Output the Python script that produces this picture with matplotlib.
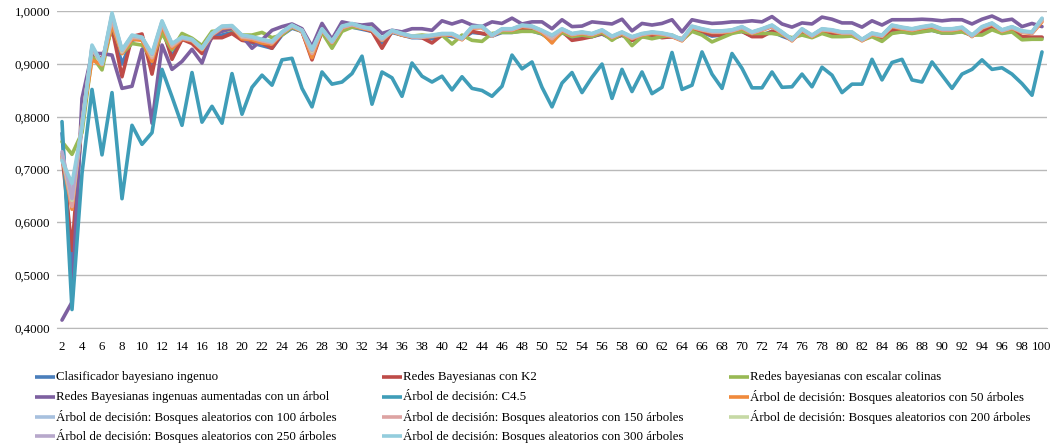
import matplotlib.pyplot as plt
from matplotlib.lines import Line2D
from matplotlib.ticker import FuncFormatter, MultipleLocator
import numpy as np

plt.rcParams['font.family'] = ['Liberation Serif', 'DejaVu Serif']

x = np.arange(2, 101)

nb = [0.769, 0.500, 0.805, 0.925, 0.905, 0.970, 0.900, 0.945, 0.950, 0.895,
      0.968, 0.915, 0.948, 0.942, 0.925, 0.952, 0.955, 0.960, 0.948, 0.940,
      0.935, 0.930, 0.955, 0.968, 0.962, 0.915, 0.962, 0.940, 0.968, 0.970,
      0.966, 0.962, 0.940, 0.960, 0.955, 0.950, 0.950, 0.948, 0.955, 0.952,
      0.948, 0.960, 0.958, 0.953, 0.960, 0.960, 0.963, 0.963, 0.957, 0.945,
      0.960, 0.950, 0.952, 0.952, 0.957, 0.948, 0.955, 0.945, 0.952, 0.953,
      0.951, 0.952, 0.946, 0.963, 0.960, 0.953, 0.955, 0.960, 0.962, 0.953,
      0.955, 0.962, 0.953, 0.946, 0.960, 0.952, 0.961, 0.957, 0.954, 0.955,
      0.946, 0.954, 0.949, 0.963, 0.961, 0.959, 0.962, 0.964, 0.959, 0.959,
      0.962, 0.954, 0.960, 0.968, 0.959, 0.962, 0.950, 0.950, 0.950]

k2 = [0.730, 0.547, 0.800, 0.920, 0.910, 0.968, 0.876, 0.952, 0.957, 0.881,
      0.971, 0.909, 0.947, 0.939, 0.920, 0.950, 0.950, 0.958, 0.945, 0.942,
      0.940, 0.930, 0.958, 0.970, 0.962, 0.908, 0.962, 0.940, 0.968, 0.972,
      0.968, 0.962, 0.930, 0.962, 0.955, 0.952, 0.950, 0.940, 0.955, 0.955,
      0.948, 0.962, 0.958, 0.955, 0.962, 0.962, 0.965, 0.965, 0.958, 0.945,
      0.962, 0.945, 0.948, 0.952, 0.958, 0.948, 0.955, 0.945, 0.952, 0.955,
      0.950, 0.952, 0.948, 0.965, 0.962, 0.955, 0.955, 0.962, 0.962, 0.952,
      0.952, 0.962, 0.955, 0.947, 0.962, 0.952, 0.962, 0.958, 0.955, 0.955,
      0.947, 0.955, 0.950, 0.965, 0.962, 0.960, 0.963, 0.965, 0.960, 0.960,
      0.963, 0.955, 0.962, 0.970, 0.960, 0.963, 0.952, 0.951, 0.951]

hill = [0.753, 0.729, 0.770, 0.915, 0.889, 0.974, 0.920, 0.939, 0.936, 0.911,
        0.958, 0.927, 0.958, 0.949, 0.935, 0.962, 0.963, 0.966, 0.955, 0.955,
        0.960, 0.950, 0.955, 0.970, 0.962, 0.930, 0.960, 0.930, 0.962, 0.970,
        0.968, 0.968, 0.945, 0.962, 0.955, 0.953, 0.955, 0.953, 0.955, 0.938,
        0.955, 0.945, 0.943, 0.958, 0.960, 0.960, 0.962, 0.962, 0.958, 0.942,
        0.960, 0.952, 0.955, 0.952, 0.960, 0.945, 0.958, 0.935, 0.952, 0.948,
        0.952, 0.955, 0.945, 0.962, 0.955, 0.942, 0.950, 0.958, 0.962, 0.958,
        0.958, 0.958, 0.955, 0.950, 0.955, 0.950, 0.958, 0.952, 0.952, 0.953,
        0.945, 0.952, 0.943, 0.958, 0.961, 0.958, 0.961, 0.964, 0.959, 0.959,
        0.961, 0.955, 0.955, 0.965, 0.958, 0.961, 0.946, 0.947, 0.947]

tan = [0.415, 0.449, 0.835, 0.920, 0.920, 0.917, 0.854, 0.858, 0.928, 0.788,
       0.936, 0.890, 0.905, 0.928, 0.902, 0.955, 0.962, 0.968, 0.953, 0.930,
       0.946, 0.964, 0.971, 0.976, 0.967, 0.933, 0.977, 0.947, 0.980, 0.976,
       0.974, 0.976, 0.958, 0.964, 0.961, 0.967, 0.967, 0.964, 0.982, 0.976,
       0.982, 0.974, 0.971, 0.980, 0.977, 0.987, 0.976, 0.980, 0.980, 0.967,
       0.984, 0.971, 0.972, 0.980, 0.978, 0.976, 0.985, 0.963, 0.977, 0.974,
       0.977, 0.984, 0.961, 0.984, 0.980, 0.977, 0.978, 0.980, 0.980, 0.982,
       0.980, 0.990, 0.976, 0.970, 0.978, 0.976, 0.989, 0.985, 0.978, 0.978,
       0.970, 0.982, 0.974, 0.984, 0.984, 0.984, 0.985, 0.984, 0.982, 0.984,
       0.984, 0.976, 0.985, 0.991, 0.982, 0.985, 0.971, 0.977, 0.971]

c45 = [0.791, 0.435, 0.693, 0.852, 0.728, 0.846, 0.645, 0.784, 0.748, 0.770,
       0.890, 0.838, 0.784, 0.884, 0.790, 0.820, 0.788, 0.882, 0.805, 0.856,
       0.879, 0.860, 0.908, 0.911, 0.854, 0.819, 0.885, 0.862, 0.866, 0.882,
       0.915, 0.824, 0.885, 0.874, 0.839, 0.902, 0.877, 0.866, 0.877, 0.851,
       0.876, 0.854, 0.850, 0.839, 0.858, 0.917, 0.891, 0.904, 0.856, 0.819,
       0.864, 0.884, 0.846, 0.875, 0.900, 0.835, 0.890, 0.848, 0.885, 0.844,
       0.856, 0.922, 0.852, 0.860, 0.923, 0.881, 0.854, 0.920, 0.892, 0.855,
       0.855, 0.885, 0.856, 0.857, 0.881, 0.857, 0.894, 0.879, 0.846, 0.862,
       0.862, 0.909, 0.870, 0.903, 0.909, 0.870, 0.866, 0.904, 0.879, 0.854,
       0.881, 0.890, 0.908, 0.890, 0.893, 0.881, 0.863, 0.841, 0.923]

rf50 = [0.725, 0.625, 0.790, 0.908, 0.898, 0.975, 0.920, 0.947, 0.945, 0.905,
        0.972, 0.930, 0.948, 0.944, 0.927, 0.955, 0.968, 0.970, 0.948, 0.946,
        0.940, 0.938, 0.958, 0.972, 0.962, 0.912, 0.965, 0.940, 0.968, 0.974,
        0.968, 0.964, 0.945, 0.962, 0.955, 0.951, 0.951, 0.952, 0.956, 0.955,
        0.946, 0.968, 0.969, 0.953, 0.965, 0.964, 0.971, 0.970, 0.960, 0.940,
        0.964, 0.955, 0.958, 0.955, 0.962, 0.950, 0.958, 0.948, 0.955, 0.958,
        0.956, 0.952, 0.944, 0.969, 0.964, 0.960, 0.960, 0.962, 0.968, 0.958,
        0.964, 0.971, 0.958, 0.944, 0.964, 0.952, 0.964, 0.962, 0.958, 0.958,
        0.944, 0.956, 0.952, 0.971, 0.967, 0.964, 0.968, 0.971, 0.964, 0.964,
        0.967, 0.952, 0.968, 0.975, 0.962, 0.968, 0.960, 0.958, 0.980]

rf100 = [0.722, 0.655, 0.785, 0.930, 0.900, 0.990, 0.925, 0.952, 0.949, 0.915,
         0.978, 0.936, 0.950, 0.946, 0.929, 0.957, 0.970, 0.971, 0.952, 0.950,
         0.945, 0.941, 0.960, 0.973, 0.963, 0.922, 0.966, 0.942, 0.970, 0.975,
         0.970, 0.966, 0.947, 0.963, 0.957, 0.952, 0.952, 0.954, 0.957, 0.957,
         0.948, 0.970, 0.971, 0.954, 0.966, 0.966, 0.973, 0.971, 0.963, 0.950,
         0.966, 0.957, 0.960, 0.957, 0.964, 0.952, 0.960, 0.950, 0.957, 0.960,
         0.958, 0.954, 0.946, 0.971, 0.966, 0.962, 0.962, 0.964, 0.970, 0.960,
         0.966, 0.973, 0.960, 0.946, 0.966, 0.954, 0.966, 0.964, 0.960, 0.960,
         0.946, 0.958, 0.954, 0.973, 0.969, 0.966, 0.970, 0.973, 0.966, 0.966,
         0.969, 0.954, 0.970, 0.977, 0.964, 0.970, 0.962, 0.960, 0.984]

rf150 = [0.728, 0.630, 0.790, 0.928, 0.902, 0.985, 0.922, 0.950, 0.950, 0.912,
         0.976, 0.934, 0.949, 0.945, 0.928, 0.956, 0.969, 0.971, 0.951, 0.949,
         0.944, 0.940, 0.959, 0.972, 0.963, 0.920, 0.965, 0.941, 0.969, 0.975,
         0.969, 0.965, 0.946, 0.962, 0.956, 0.952, 0.951, 0.953, 0.956, 0.956,
         0.947, 0.969, 0.970, 0.953, 0.965, 0.965, 0.972, 0.970, 0.962, 0.948,
         0.965, 0.956, 0.959, 0.956, 0.963, 0.951, 0.959, 0.949, 0.956, 0.959,
         0.957, 0.953, 0.945, 0.970, 0.965, 0.961, 0.961, 0.963, 0.969, 0.959,
         0.965, 0.972, 0.959, 0.945, 0.965, 0.953, 0.965, 0.963, 0.959, 0.959,
         0.945, 0.957, 0.953, 0.972, 0.968, 0.965, 0.969, 0.972, 0.965, 0.965,
         0.968, 0.953, 0.969, 0.976, 0.963, 0.969, 0.961, 0.959, 0.983]

rf200 = [0.730, 0.642, 0.788, 0.931, 0.899, 0.992, 0.924, 0.953, 0.950, 0.916,
         0.979, 0.937, 0.951, 0.946, 0.929, 0.957, 0.971, 0.972, 0.953, 0.951,
         0.946, 0.942, 0.960, 0.973, 0.964, 0.924, 0.966, 0.942, 0.971, 0.976,
         0.970, 0.966, 0.948, 0.963, 0.957, 0.953, 0.952, 0.954, 0.957, 0.957,
         0.948, 0.970, 0.971, 0.954, 0.966, 0.966, 0.973, 0.971, 0.963, 0.952,
         0.966, 0.957, 0.960, 0.957, 0.964, 0.952, 0.960, 0.951, 0.957, 0.960,
         0.958, 0.954, 0.946, 0.971, 0.966, 0.962, 0.962, 0.964, 0.970, 0.960,
         0.966, 0.973, 0.960, 0.946, 0.966, 0.954, 0.966, 0.964, 0.960, 0.960,
         0.946, 0.958, 0.954, 0.973, 0.969, 0.966, 0.970, 0.973, 0.966, 0.966,
         0.969, 0.954, 0.970, 0.977, 0.964, 0.970, 0.962, 0.960, 0.985]

rf250 = [0.734, 0.645, 0.786, 0.933, 0.900, 0.994, 0.926, 0.954, 0.950, 0.918,
         0.980, 0.938, 0.950, 0.946, 0.930, 0.957, 0.971, 0.972, 0.954, 0.951,
         0.946, 0.942, 0.960, 0.973, 0.964, 0.926, 0.966, 0.942, 0.971, 0.976,
         0.970, 0.966, 0.948, 0.963, 0.957, 0.952, 0.952, 0.954, 0.957, 0.957,
         0.948, 0.970, 0.971, 0.954, 0.966, 0.966, 0.973, 0.971, 0.963, 0.953,
         0.966, 0.957, 0.960, 0.957, 0.964, 0.952, 0.960, 0.951, 0.957, 0.960,
         0.958, 0.954, 0.946, 0.971, 0.966, 0.962, 0.962, 0.964, 0.970, 0.960,
         0.966, 0.973, 0.960, 0.946, 0.966, 0.954, 0.966, 0.964, 0.960, 0.960,
         0.946, 0.958, 0.954, 0.973, 0.969, 0.966, 0.970, 0.973, 0.966, 0.966,
         0.969, 0.954, 0.970, 0.977, 0.964, 0.970, 0.962, 0.960, 0.986]

rf300 = [0.717, 0.674, 0.780, 0.936, 0.901, 0.997, 0.927, 0.955, 0.951, 0.920,
         0.982, 0.939, 0.951, 0.947, 0.930, 0.958, 0.972, 0.973, 0.955, 0.952,
         0.947, 0.943, 0.961, 0.974, 0.964, 0.928, 0.967, 0.943, 0.972, 0.977,
         0.971, 0.967, 0.949, 0.964, 0.958, 0.953, 0.953, 0.955, 0.958, 0.958,
         0.949, 0.971, 0.972, 0.955, 0.967, 0.967, 0.974, 0.972, 0.964, 0.955,
         0.967, 0.958, 0.961, 0.958, 0.965, 0.953, 0.961, 0.952, 0.958, 0.961,
         0.959, 0.955, 0.947, 0.972, 0.967, 0.963, 0.963, 0.965, 0.971, 0.961,
         0.967, 0.974, 0.961, 0.947, 0.967, 0.955, 0.967, 0.965, 0.961, 0.961,
         0.947, 0.959, 0.955, 0.974, 0.970, 0.967, 0.971, 0.974, 0.967, 0.967,
         0.970, 0.955, 0.971, 0.978, 0.965, 0.971, 0.963, 0.961, 0.987]

labels = ['Clasificador bayesiano ingenuo',
          'Redes Bayesianas con K2',
          'Redes bayesianas con escalar colinas',
          'Redes Bayesianas ingenuas aumentadas con un árbol',
          'Árbol de decisión: C4.5',
          'Árbol de decisión: Bosques aleatorios con 50 árboles',
          'Árbol de decisión: Bosques aleatorios con 100 árboles',
          'Árbol de decisión: Bosques aleatorios con 150 árboles',
          'Árbol de decisión: Bosques aleatorios con 200 árboles',
          'Árbol de decisión: Bosques aleatorios con 250 árboles',
          'Árbol de decisión: Bosques aleatorios con 300 árboles']
series = [nb, k2, hill, tan, c45, rf50, rf100, rf150, rf200, rf250, rf300]
colors = ['#4A7EBB', '#BE4B48', '#98B954', '#7D60A0', '#3F9DB8', '#F08A3C',
          '#A7C0DE', '#DDA3A2', '#C6D9A5', '#B7A8CB', '#93CDDD']

W, H = 1054, 444
fig = plt.figure(figsize=(W / 100, H / 100), dpi=100)
ax = fig.add_axes([57 / W, 1 - 328 / H, 990 / W, (328 - 11.3) / H])

for vals, col, lab in zip(series, colors, labels):
    ax.plot(x, vals, color=col, lw=2.6, label=lab, solid_joinstyle='round',
            solid_capstyle='round', clip_on=False, zorder=3)

ax.set_xlim(1.5, 100.5)
ax.set_ylim(0.4, 1.0)
ax.yaxis.set_major_locator(MultipleLocator(0.1))
ax.yaxis.set_major_formatter(FuncFormatter(lambda v, p: f'{v:.4f}'.replace('.', ',')))
ax.set_xticks(np.arange(2, 101, 2))
ax.grid(axis='y', color='#B9B9B9', lw=1.0, zorder=0)
for s in ['top', 'right', 'left']:
    ax.spines[s].set_visible(False)
ax.spines['bottom'].set_color('#B9B9B9')
ax.tick_params(axis='both', length=0, labelsize=9.3, colors='#000000')
ax.tick_params(axis='y', pad=5)
ax.tick_params(axis='x', pad=9)

# legend laid out row by row, three columns
col_x = [35, 382, 729]
row_y = [377, 397, 417, 436]
for i, (col, lab) in enumerate(zip(colors, labels)):
    r, c = divmod(i, 3)
    x0 = col_x[c]
    yf = 1 - row_y[r] / H
    fig.add_artist(Line2D([x0 / W, (x0 + 20) / W], [yf, yf], color=col, lw=2.6,
                          solid_capstyle='butt', transform=fig.transFigure))
    fig.text((x0 + 21) / W, yf, lab, fontsize=9.3, va='center', ha='left')

fig.savefig('out.png', dpi=100)
